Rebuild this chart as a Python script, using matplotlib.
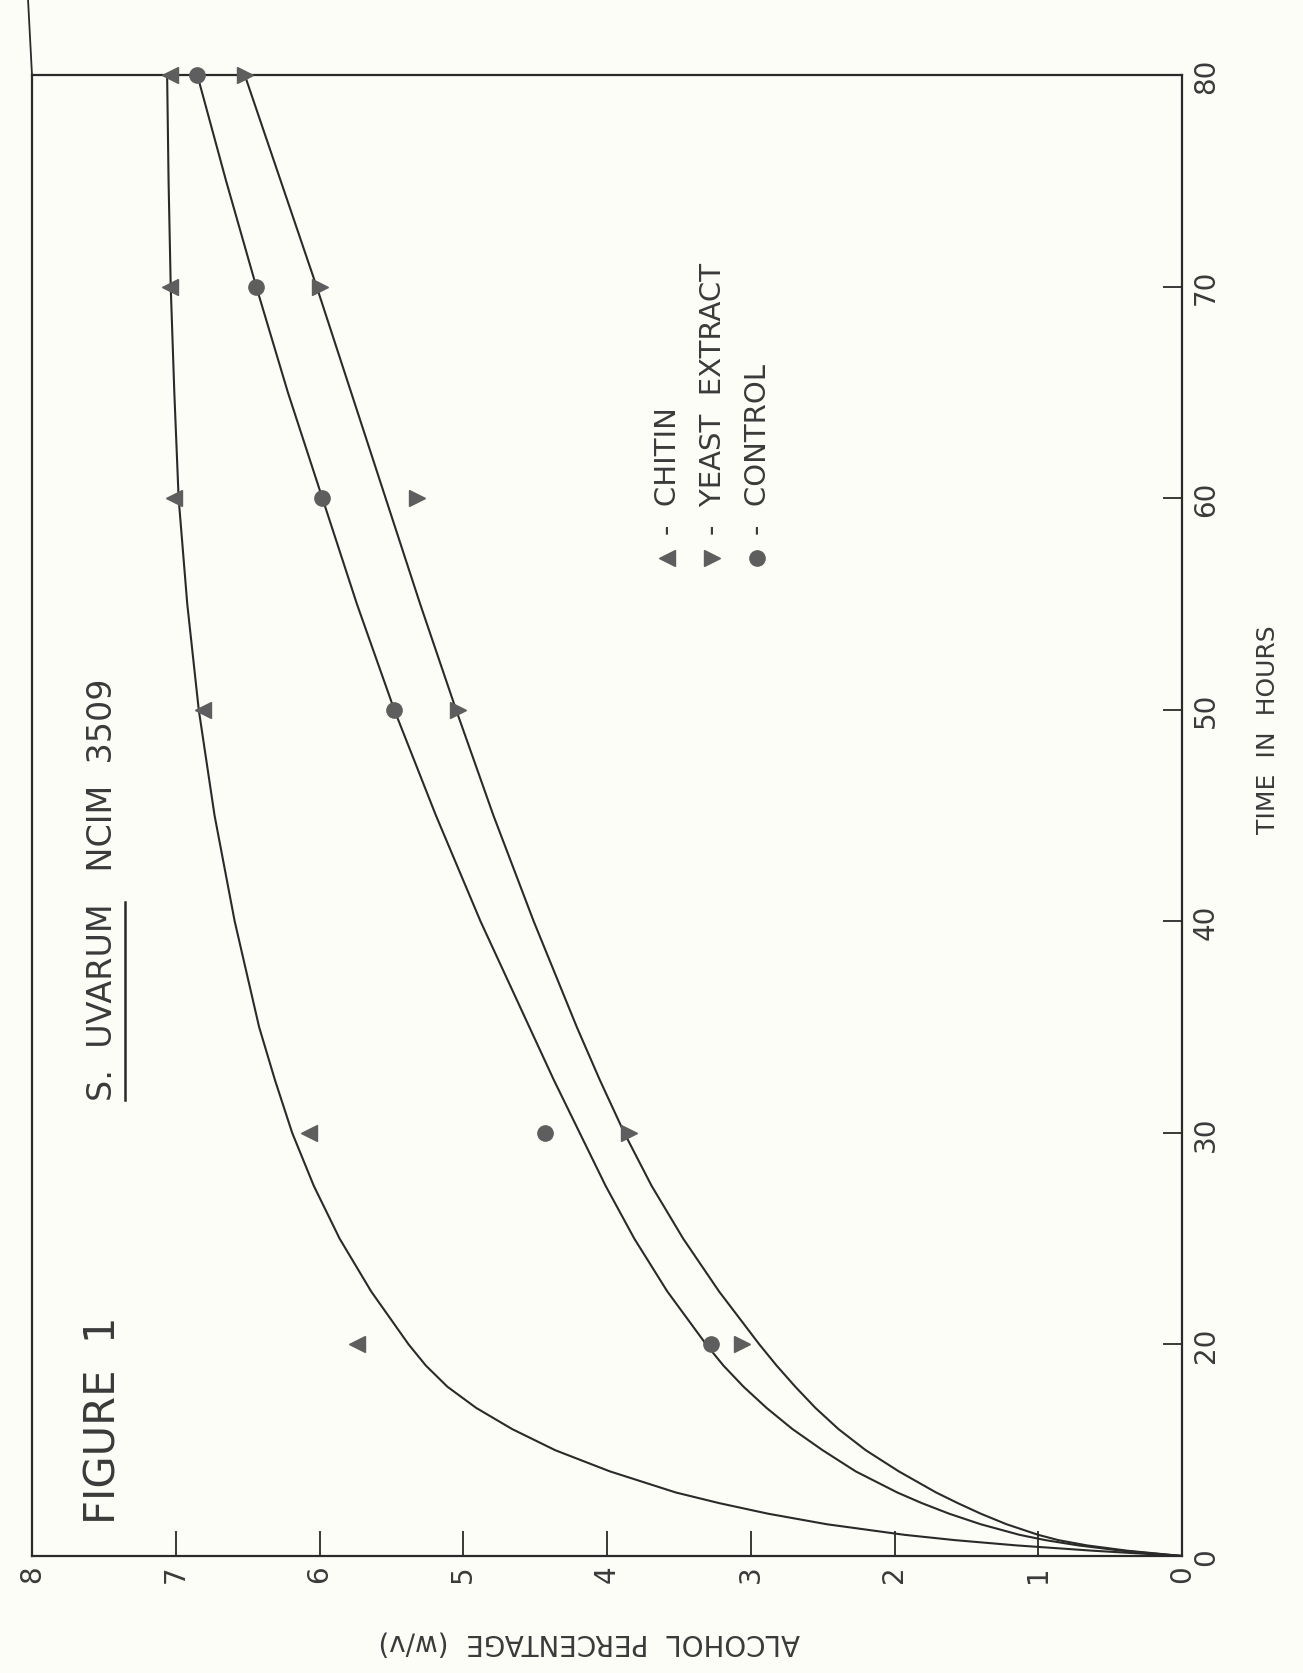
import numpy as np
import matplotlib
matplotlib.use("Agg")
import matplotlib.pyplot as plt
from matplotlib.lines import Line2D

# ---------------- data ----------------
sample_hours = [20, 30, 50, 60, 70, 80]
chitin = [5.74, 6.07, 6.81, 7.01, 7.04, 7.04]
yeast_extract = [3.06, 3.85, 5.04, 5.32, 6.00, 6.52]
control = [3.28, 4.43, 5.48, 5.98, 6.44, 6.85]

# hand-drawn smooth curves, read along their length
curve_hours = [0, 0.5, 1, 1.5, 2, 3, 4, 5, 6, 8, 10, 12, 14, 16, 18, 20,
               22.5, 25, 27.5, 30, 32.5, 35, 40, 45, 50, 55, 60, 65, 70, 75, 80]
chitin_curve = [0, 0.62, 1.15, 1.58, 1.93, 2.47, 2.88, 3.22, 3.52, 3.98, 4.36,
                4.66, 4.91, 5.11, 5.26, 5.38, 5.64, 5.86, 6.04, 6.19, 6.31,
                6.42, 6.59, 6.73, 6.84, 6.92, 6.98, 7.01, 7.035, 7.05, 7.06]
control_curve = [0, 0.42, 0.72, 0.95, 1.13, 1.40, 1.62, 1.81, 1.98, 2.27, 2.50,
                 2.71, 2.89, 3.05, 3.19, 3.31, 3.58, 3.81, 4.01, 4.19, 4.37,
                 4.54, 4.88, 5.19, 5.48, 5.74, 5.98, 6.22, 6.44, 6.65, 6.85]
yeast_curve = [0, 0.38, 0.66, 0.86, 1.00, 1.22, 1.40, 1.56, 1.71, 1.97, 2.20,
               2.39, 2.55, 2.69, 2.82, 2.94, 3.22, 3.47, 3.69, 3.88, 4.05,
               4.21, 4.51, 4.79, 5.05, 5.30, 5.54, 5.78, 6.02, 6.27, 6.52]

alcohol_ticks = [0, 1, 2, 3, 4, 5, 6, 7, 8]
hour_ticks = [0, 20, 30, 40, 50, 60, 70, 80]

legend_labels = ["-  CHITIN", "-  YEAST  EXTRACT", "-  CONTROL"]

# ---------------- figure ----------------
W, H = 1303, 1674
BG = "#fdfdf7"
INK = "#2a2a2a"
MARK = "#5e5e5e"
TXT = "#3a3a3a"
plt.rcParams["font.family"] = ["DejaVu Sans"]

fig = plt.figure(figsize=(W / 100, H / 100), dpi=100, facecolor=BG)


def fx(px):
    return px / W


def fy(py):
    return 1 - py / H


left, top, right, bottom = 32, 76, 1182, 1557
ax = fig.add_axes([fx(left), fy(bottom), fx(right - left), (bottom - top) / H])
ax.set_facecolor(BG)


# time axis: 0-20 h compressed to half scale (as drawn in the original)
def fwd(t):
    t = np.asarray(t, float)
    return np.where(t <= 20, t / 2.0, t - 10.0)


def inv(p):
    p = np.asarray(p, float)
    return np.where(p <= 10, p * 2.0, p + 10.0)


ax.set_yscale("function", functions=(fwd, inv))
ax.set_xlim(8, 0)
ax.set_ylim(0, 80)

# curves
for vals in (chitin_curve, control_curve, yeast_curve):
    ax.plot(vals, curve_hours, color=INK, lw=1.5, solid_joinstyle="round",
            solid_capstyle="round")

# markers (page is turned 90 deg: up-triangle shows as '<', down-triangle as '>')
ax.plot(chitin, sample_hours, ls="none", marker="<", ms=12, color=MARK,
        clip_on=False, zorder=5)
ax.plot(yeast_extract, sample_hours, ls="none", marker=">", ms=12, color=MARK,
        clip_on=False, zorder=5)
ax.plot(control, sample_hours, ls="none", marker="o", ms=11, color=MARK,
        clip_on=False, zorder=5)

# ticks
ax.set_xticks(alcohol_ticks)
ax.set_xticklabels([str(v) for v in alcohol_ticks])
ax.set_yticks(hour_ticks)
ax.set_yticklabels([str(v) for v in hour_ticks])
ax.yaxis.set_minor_locator(matplotlib.ticker.NullLocator())
ax.tick_params(axis="x", direction="in", length=18, width=1.3, colors=INK,
               labelsize=20, labelrotation=90, pad=6, labelcolor=TXT,
               top=False)
ax.tick_params(axis="y", direction="in", length=14, width=1.3, colors=INK,
               labelsize=20, labelrotation=90, pad=7, labelcolor=TXT,
               left=False, labelleft=False, right=True, labelright=True)
for lab in ax.get_yticklabels():
    lab.set_va("center")

for s in ax.spines.values():
    s.set_color(INK)
    s.set_linewidth(1.6)

# left border running up to the page edge
fig.add_artist(Line2D([fx(left), fx(left - 4)], [fy(top), 1.0],
                      transform=fig.transFigure, color=INK, lw=1.3))

# ---------------- texts ----------------
fig.text(fx(589), fy(1643), "ALCOHOL  PERCENTAGE  (w/v)", rotation=180,
         ha="center", va="center", fontsize=20, color=TXT)
fig.text(fx(1268), fy(730), "TIME  IN  HOURS", rotation=90,
         ha="center", va="center", fontsize=18, color=TXT)
fig.text(fx(104), fy(1524), "FIGURE  1", rotation=90, rotation_mode="anchor",
         ha="left", va="center", fontsize=30, color=TXT)

title_kw = dict(rotation=90, rotation_mode="anchor", ha="left", va="center",
                fontsize=24, color=TXT)
fig.text(fx(103), fy(1101), "S.  UVARUM   NCIM  3509", **title_kw)
probe = fig.text(fx(103), fy(1101), "S.  UVARUM", alpha=0, **title_kw)

# legend (rotated with the page)
leg_x = [667, 712, 757]
leg_markers = ["<", ">", "o"]
for xx, mk, lab in zip(leg_x, leg_markers, legend_labels):
    fig.add_artist(Line2D([fx(xx)], [fy(559)], transform=fig.transFigure,
                          ls="none", marker=mk, ms=12 if mk != "o" else 11,
                          color=MARK))
    fig.text(fx(xx + 1), fy(535), lab, rotation=90, rotation_mode="anchor",
             ha="left", va="center", fontsize=21, color=TXT)

# underline of "S. UVARUM" (to the right of the rotated text)
fig.canvas.draw()
bb = probe.get_window_extent()
probe.remove()
ux = (bb.x1 + 5) / fig.bbox.width
fig.add_artist(Line2D([ux, ux], [bb.y0 / fig.bbox.height, bb.y1 / fig.bbox.height],
                      transform=fig.transFigure, color=INK, lw=1.8))

fig.savefig("out.png", dpi=100, facecolor=BG)
